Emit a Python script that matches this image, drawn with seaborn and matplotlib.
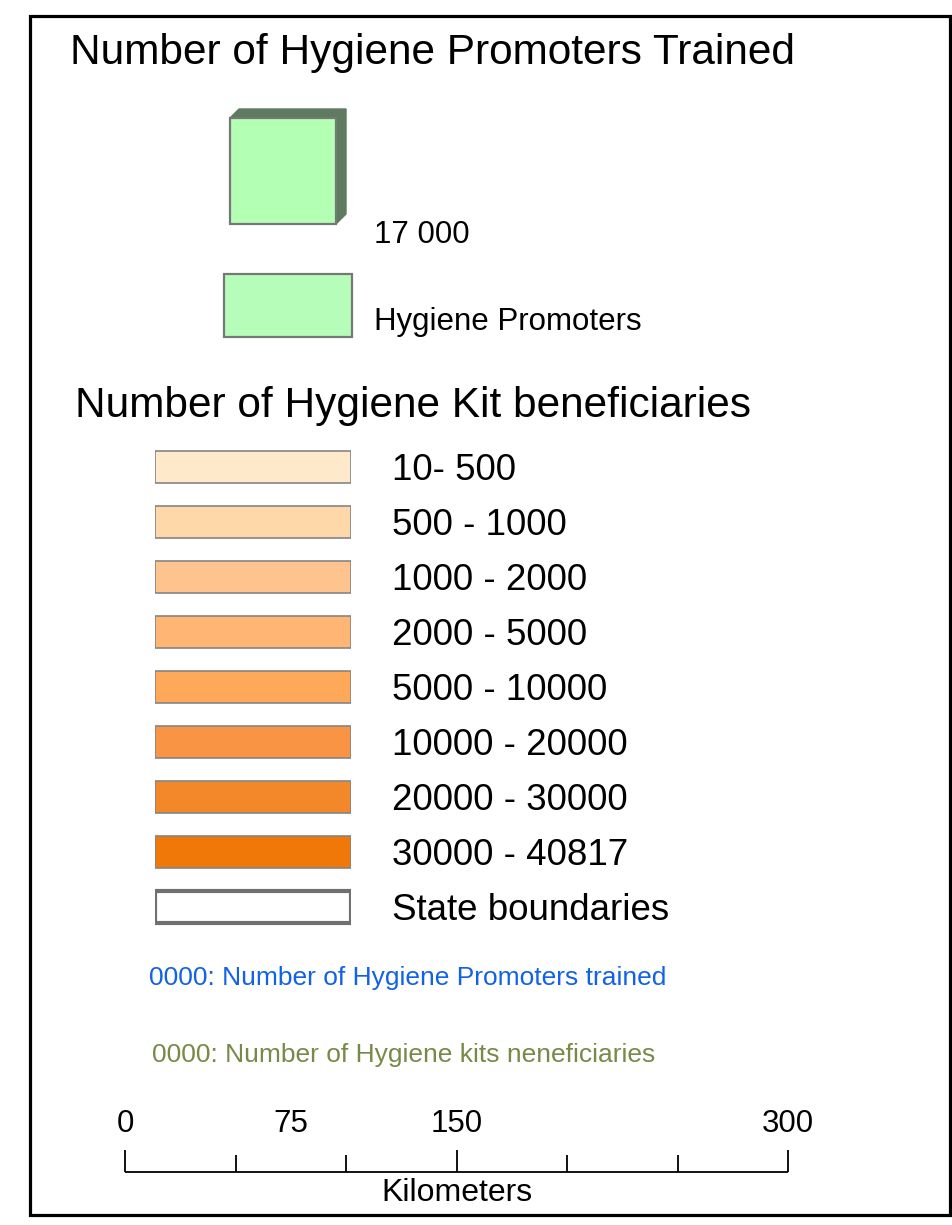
import matplotlib.pyplot as plt
import matplotlib.patches as mpatches
import seaborn as sns
import pandas as pd

# legend data
title_promoters = "Number of Hygiene Promoters Trained"
title_kits = "Number of Hygiene Kit beneficiaries"
promoters_value = "17 000"
promoters_label = "Hygiene Promoters"
classes = ["10- 500", "500 - 1000", "1000 - 2000", "2000 - 5000", "5000 - 10000",
           "10000 - 20000", "20000 - 30000", "30000 - 40817", "State boundaries"]
class_colors = ["#ffe9cb", "#ffd8aa", "#ffc48e", "#ffb675", "#fea85a",
                "#fa9445", "#f3882b", "#f07808", "#ffffff"]
note_promoters = "0000: Number of Hygiene Promoters trained"
note_kits = "0000: Number of Hygiene kits neneficiaries"
scale_ticks = [0, 50, 100, 150, 200, 250, 300]
scale_labels = [0, 75, 150, 300]
scale_major = [0, 150, 300]

sns.set_style("white")
plt.rcParams['font.family'] = ['Liberation Sans', 'DejaVu Sans']
plt.rcParams['text.color'] = 'black'

W, H = 952, 1225
fig = plt.figure(figsize=(W / 100, H / 100), dpi=100)

# page axes in pixel units
page = fig.add_axes([0, 0, 1, 1])
page.set_xlim(0, W)
page.set_ylim(H, 0)
page.axis('off')


def px_axes(x0, y0, x1, y1):
    return fig.add_axes([x0 / W, 1 - y1 / H, (x1 - x0) / W, (y1 - y0) / H])


# frame
page.add_patch(mpatches.Rectangle((29.5, 15.5), 920, 1199, fill=False,
                                  edgecolor='black', linewidth=2.3))

# titles
page.text(70, 64, title_promoters, fontsize=30.5, va='baseline', ha='left')
page.text(75, 417, title_kits, fontsize=30.5, va='baseline', ha='left')

# 3d box for promoters
grey = '#777777'
side = '#5e7a60'
page.add_patch(mpatches.Polygon([(230, 118), (239, 109), (346, 109), (336, 118)],
                                facecolor=side, edgecolor=side, linewidth=1))
page.add_patch(mpatches.Polygon([(336, 118), (346, 109), (346, 214), (336, 224)],
                                facecolor=side, edgecolor=side, linewidth=1))
page.add_patch(mpatches.Rectangle((230, 118), 106, 106, facecolor='#b3ffb3',
                                  edgecolor=grey, linewidth=1.6))
page.text(374, 243, promoters_value, fontsize=22.5, va='baseline')

page.add_patch(mpatches.Rectangle((223.5, 273.5), 128, 63, facecolor='#b5fdb8',
                                  edgecolor=grey, linewidth=1.6))
page.text(374, 330, promoters_label, fontsize=22.5, va='baseline')

# class swatches
n = len(classes)
ax = px_axes(155, 467 - 27.5, 351, 467 + 55 * (n - 1) + 27.5)
df = pd.DataFrame({'label': classes, 'v': [1] * n})
sns.barplot(data=df, x='v', y='label', hue='label', palette=class_colors,
            width=32 / 55, legend=False, ax=ax, saturation=1)
ax.set_xlim(0, 1)
ax.set_ylim(n - 0.5, -0.5)
for i, p in enumerate(ax.patches):
    if i == n - 1:
        p.set_edgecolor('#707070')
        p.set_linewidth(3)
    else:
        p.set_edgecolor('#858585')
        p.set_linewidth(1.2)
for i, lab in enumerate(classes):
    ax.text(1.209, i + 0.07, lab, fontsize=26.5, va='center', ha='left', clip_on=False)
ax.axis('off')

# notes
page.text(149, 985, note_promoters, fontsize=19, color='#1262e8', va='baseline')
page.text(152, 1062, note_kits, fontsize=19, color='#778a48', va='baseline')

# scale bar in km
sax = px_axes(125, 1100, 788, 1210)
sax.set_xlim(0, 300)
sax.set_ylim(1210, 1100)
sax.axis('off')
sax.hlines(1172, 0, 300, color='black', linewidth=1.3, clip_on=False)
for t in scale_ticks:
    top = 1150 if t in scale_major else 1155
    sax.vlines(t, top, 1172, color='black', linewidth=1.3, clip_on=False)
for t in scale_labels:
    sax.text(t, 1132, str(t), fontsize=22.5, ha='center', va='baseline', clip_on=False)
sax.text(150, 1201, "Kilometers", fontsize=23, ha='center', va='baseline', clip_on=False)

fig.savefig('out.png', dpi=100)
